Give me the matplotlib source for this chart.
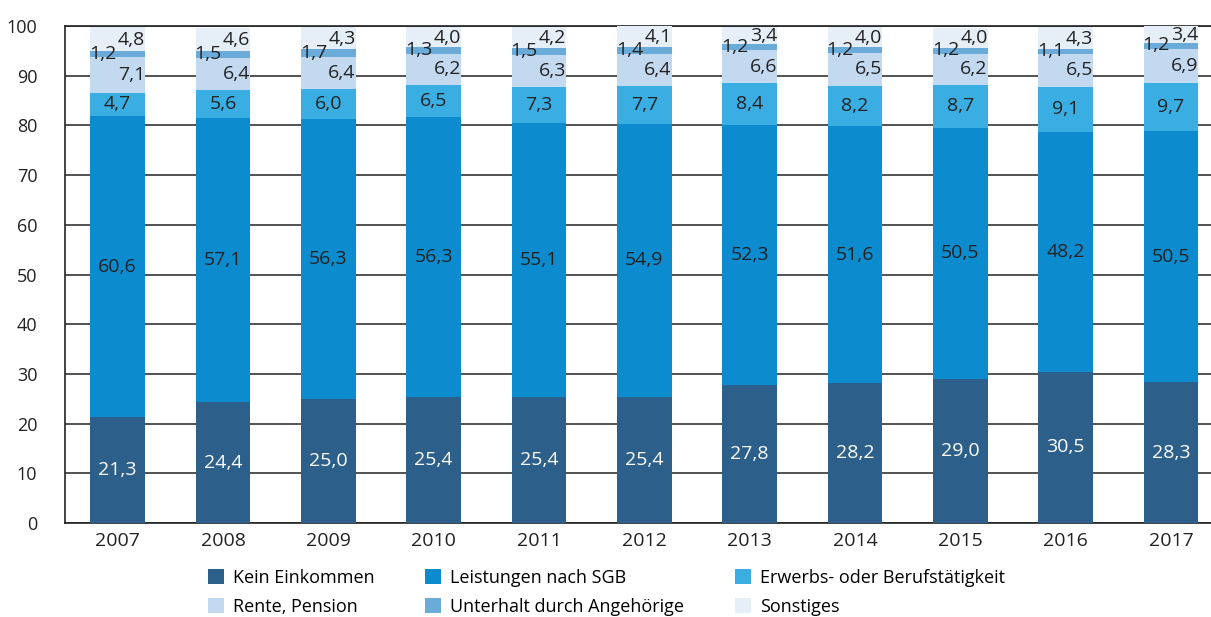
import numpy as np
import matplotlib.pyplot as plt

years = ['2007', '2008', '2009', '2010', '2011', '2012', '2013', '2014', '2015', '2016', '2017']
kein = [21.3, 24.4, 25.0, 25.4, 25.4, 25.4, 27.8, 28.2, 29.0, 30.5, 28.3]
sgb = [60.6, 57.1, 56.3, 56.3, 55.1, 54.9, 52.3, 51.6, 50.5, 48.2, 50.5]
erwerb = [4.7, 5.6, 6.0, 6.5, 7.3, 7.7, 8.4, 8.2, 8.7, 9.1, 9.7]
rente = [7.1, 6.4, 6.4, 6.2, 6.3, 6.4, 6.6, 6.5, 6.2, 6.5, 6.9]
unterhalt = [1.2, 1.5, 1.7, 1.3, 1.5, 1.4, 1.2, 1.2, 1.2, 1.1, 1.2]
sonstiges = [4.8, 4.6, 4.3, 4.0, 4.2, 4.1, 3.4, 4.0, 4.0, 4.3, 3.4]

series = [kein, sgb, erwerb, rente, unterhalt, sonstiges]
names = ['Kein Einkommen', 'Leistungen nach SGB', 'Erwerbs- oder Berufstätigkeit',
         'Rente, Pension', 'Unterhalt durch Angehörige', 'Sonstiges']
colors = ['#2c5f8a', '#0d8bcf', '#3aaee3', '#c3d9f0', '#6aabd9', '#e6eef8']

plt.rcParams['font.family'] = ['Open Sans', 'DejaVu Sans']

fig = plt.figure(figsize=(12.11, 6.17), dpi=100)
ax = fig.add_axes([0.0537, 0.152, 0.955, 0.806])

x = np.arange(len(years))
w = 0.52
bottom = np.zeros(len(years))
bars = []
txt = '#222222'
fs = 14
for i, (vals, name, c) in enumerate(zip(series, names, colors)):
    vals = np.array(vals)
    b = ax.bar(x, vals, w, bottom=bottom, color=c, label=name, zorder=3, linewidth=0)
    bars.append(b)
    mid = bottom + vals / 2
    for j in range(len(x)):
        lab = f'{vals[j]:.1f}'.replace('.', ',')
        if i == 0:
            ax.text(x[j], mid[j], lab, ha='center', va='center', color='white', fontsize=fs, zorder=4)
        elif i in (1, 2):
            ax.text(x[j], mid[j], lab, ha='center', va='center', color=txt, fontsize=fs, zorder=4)
        elif i == 3:
            ax.text(x[j] + w / 2, mid[j], lab, ha='right', va='center', color=txt, fontsize=fs, zorder=4)
        elif i == 4:
            ax.text(x[j] - w / 2 - 0.01, mid[j] + 0.1, lab, ha='left', va='center', color=txt, fontsize=fs, zorder=4)
        else:
            ax.text(x[j] + w / 2, mid[j] - 0.1, lab, ha='right', va='center', color=txt, fontsize=fs, zorder=4)
    bottom = bottom + vals

ax.set_xlim(-0.5, 10.48)
ax.set_ylim(0, 100)
ax.set_yticks(np.arange(0, 101, 10))
ax.set_xticks(x)
ax.set_xticklabels(years)
ax.tick_params(axis='both', length=0, colors='#222222')
ax.tick_params(axis='y', pad=20, labelsize=13)
ax.tick_params(axis='x', pad=6, labelsize=14)
ax.yaxis.grid(True, color='#222222', linewidth=1.1, zorder=0)
for s in ['right']:
    ax.spines[s].set_visible(False)
for s in ['left', 'bottom', 'top']:
    ax.spines[s].set_color('#222222')
    ax.spines[s].set_linewidth(1.2)

order = [0, 3, 1, 4, 2, 5]
handles = [bars[k] for k in order]
labels = [names[k] for k in order]
fig.legend(handles, labels, ncol=3, loc='lower left', bbox_to_anchor=(0.158, -0.024),
           frameon=False, fontsize=13, handlelength=0.9, handleheight=0.9,
           handletextpad=0.5, columnspacing=2.8, labelspacing=0.6)

fig.savefig('out.png', dpi=100)
